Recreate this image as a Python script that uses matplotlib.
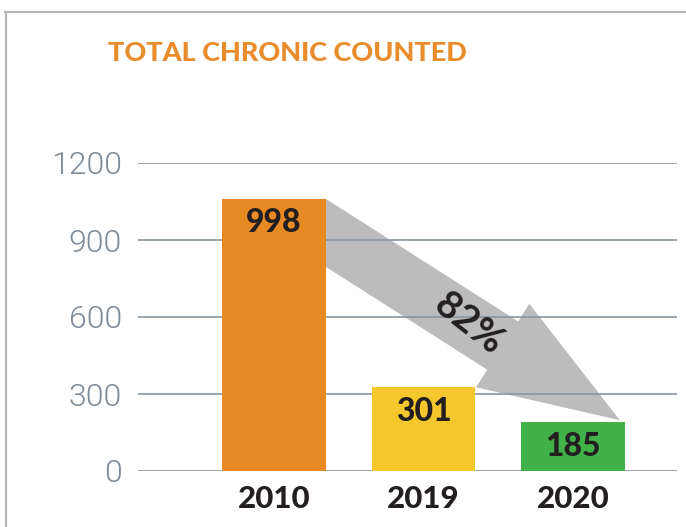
import numpy as np
import matplotlib
matplotlib.use('Agg')
import matplotlib.pyplot as plt
from matplotlib.patches import Polygon
from matplotlib.lines import Line2D
from matplotlib.transforms import IdentityTransform

# data
years = ['2010', '2019', '2020']
counts = [998, 301, 185]            # printed on the bars
bar_heights = [1060, 327, 190]      # bar heights as drawn in the picture
y_ticks = [0, 300, 600, 900, 1200]
drop_label = '82%'
title = 'TOTAL CHRONIC COUNTED'

bar_colors = ['#e88a24', '#f4c72d', '#41b14a']
dark = '#231f20'
grid_color = '#8a96a3'
tick_color = '#7d8a97'
arrow_color = '#bcbcbc'

fig = plt.figure(figsize=(6.86, 5.27), dpi=100)
W, H = 686, 527
ax = fig.add_axes([138 / W, 56 / H, 539 / W, 308 / H])

bar_w = 0.695
x = np.arange(len(years))
ax.bar(x, bar_heights, width=bar_w, color=bar_colors, zorder=2)

ax.set_xlim(-0.91, 2.696)
ax.set_ylim(0, 1200)

# horizontal grid lines
for t in y_ticks:
    ax.axhline(t, color=grid_color, lw=1.2, zorder=1)

ax.set_yticks(y_ticks)
ax.set_yticklabels([str(t) for t in y_ticks], fontsize=23, color=tick_color,
                   family='Roboto', fontweight=300)
ax.set_xticks(x)
ax.set_xticklabels(years, fontsize=22.5, color=dark, family='Lato', fontweight='black')
ax.tick_params(axis='y', length=0, pad=11.5)
ax.tick_params(axis='x', length=0, pad=10)
for s in ax.spines.values():
    s.set_visible(False)

# value labels inside the bars
for i, c in enumerate(counts):
    ax.annotate(str(c), (x[i], bar_heights[i]), xytext=(0, -24), textcoords='offset pixels',
                ha='center', va='center', fontsize=23, color=dark,
                family='Lato', fontweight='black', zorder=3)

# big grey arrow from the 2010 bar down to the 2020 bar (display pixels)
p_top = ax.transData.transform((x[0] + bar_w / 2, bar_heights[0]))
tip = ax.transData.transform((x[2] + bar_w / 2, bar_heights[2])) + np.array([-5, 2])
thick = 68
p_bot = p_top - np.array([0, thick])
c0 = p_top - np.array([0, thick / 2])
L = np.linalg.norm(tip - c0)
d = (tip - c0) / L
n = np.array([-d[1], d[0]])
head_len, head_w = 139, 99
base = c0 + (L - head_len) * d
t_top = (L - head_len) - np.dot(p_top - c0, d)
t_bot = (L - head_len) - np.dot(p_bot - c0, d)
pts = [p_top, p_top + t_top * d, base + n * head_w / 2, tip,
       base - n * head_w / 2, p_bot + t_bot * d, p_bot]
arrow = Polygon(pts, closed=True, facecolor=arrow_color, edgecolor='none',
                transform=IdentityTransform(), zorder=0.5)
ax.add_patch(arrow)

mid = c0 + 0.485 * L * d
fig.text(mid[0], mid[1], drop_label, transform=IdentityTransform(), rotation=-38,
         rotation_mode='anchor', ha='center', va='center', fontsize=28,
         color=dark, family='Lato', fontweight='bold')

# title
fig.text(287 / W, 1 - 53 / H, title, ha='center', va='center', fontsize=19.5,
         color='#e98d2c', family='Lato', fontweight='black')

# thin frame lines at top and left
fig.add_artist(Line2D([5 / W, 1], [1 - 12 / H, 1 - 12 / H], transform=fig.transFigure,
                      color='#b5b5b5', lw=1.5))
fig.add_artist(Line2D([6 / W, 6 / W], [0, 1 - 12 / H], transform=fig.transFigure,
                      color='#b5b5b5', lw=1.5))

fig.savefig('out.png', dpi=100)
